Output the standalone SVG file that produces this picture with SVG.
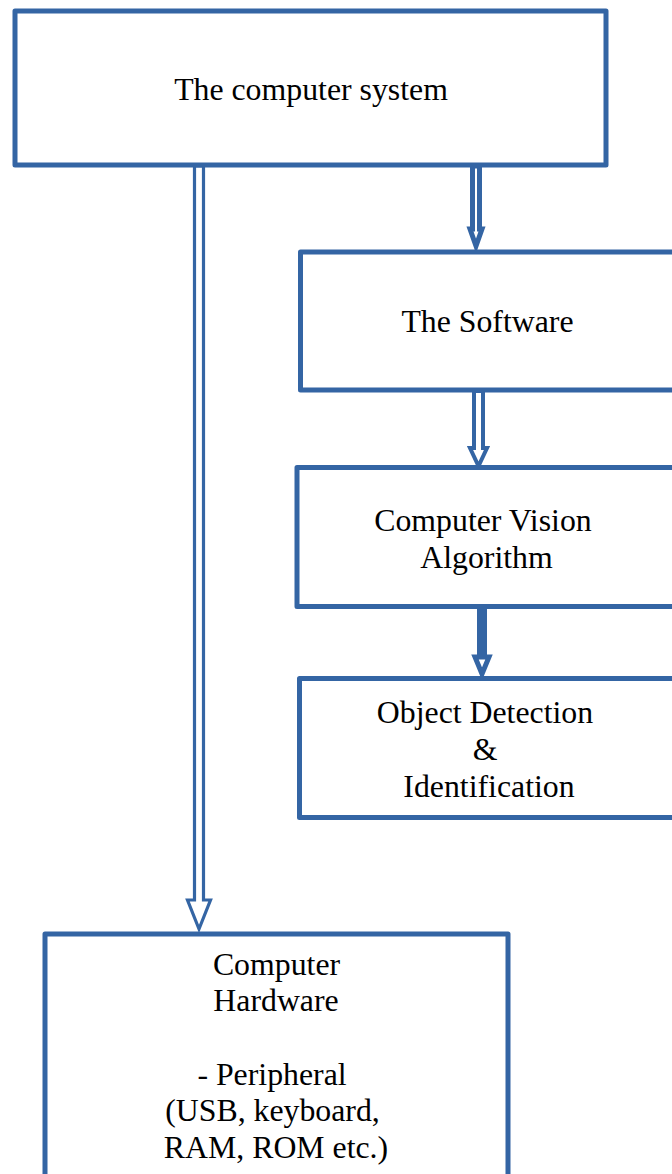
<svg xmlns="http://www.w3.org/2000/svg" width="672" height="1174" viewBox="0 0 672 1174">
  <style>
    .box { fill: #ffffff; stroke: #3465a4; stroke-width: 5; stroke-linejoin: round; }
    .arrow { fill: #ffffff; stroke: #3465a4; stroke-linejoin: miter; }
    .label { font-family: "Liberation Serif", "Times New Roman", serif; font-size: 31.8px; fill: #000000; text-anchor: middle; }
  </style>
  <rect width="672" height="1174" fill="#ffffff"/>

  <!-- connectors: outlined block arrows -->
  <g id="connectors">
    <polygon class="arrow" stroke-width="3.2" points="194.5,166 203.5,166 203.5,900 210.5,900 199,929 187.5,900 194.5,900"/>
    <polygon class="arrow" stroke-width="5" points="472.5,166 479.5,166 479.5,229 482,229 476,246 470,229 472.5,229"/>
    <polygon class="arrow" stroke-width="4" points="474,391 483,391 483,448 487,448 478.5,466 470,448 474,448"/>
    <polygon class="arrow" stroke-width="5" points="479.5,607 484.5,607 484.5,657 489,657 482,674 475,657 479.5,657"/>
  </g>

  <g id="computer-system">
    <rect class="box" x="15" y="11" width="591" height="154"/>
    <text class="label" x="311" y="100">The computer system</text>
  </g>

  <g id="software">
    <rect class="box" x="300.5" y="252" width="420" height="138"/>
    <text class="label" x="487.5" y="332">The Software</text>
  </g>

  <g id="vision-algorithm">
    <rect class="box" x="297" y="467.5" width="420" height="139"/>
    <text class="label" x="483" y="531">Computer Vision</text>
    <text class="label" x="486.5" y="568">Algorithm</text>
  </g>

  <g id="object-detection">
    <rect class="box" x="299.5" y="678.5" width="420" height="139"/>
    <text class="label" x="485" y="723">Object Detection</text>
    <text class="label" x="485" y="760">&amp;</text>
    <text class="label" x="489" y="797">Identification</text>
  </g>

  <g id="hardware">
    <rect class="box" x="45" y="934" width="463" height="300"/>
    <text class="label" x="276.5" y="975">Computer</text>
    <text class="label" x="276" y="1011">Hardware</text>
    <text class="label" x="272" y="1085">- Peripheral</text>
    <text class="label" x="272.5" y="1121">(USB, keyboard,</text>
    <text class="label" x="276" y="1158">RAM, ROM etc.)</text>
  </g>
</svg>
